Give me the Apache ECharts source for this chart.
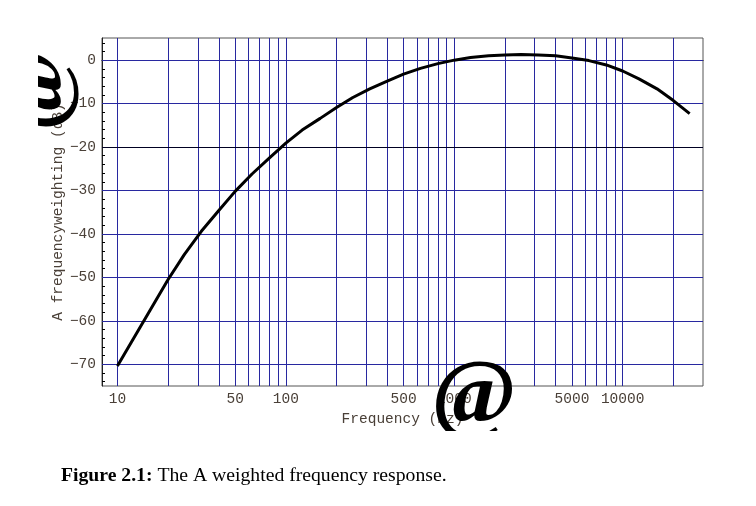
<!DOCTYPE html>
<html>
<head>
<meta charset="utf-8">
<script src="https://cdn.jsdelivr.net/npm/echarts@6/dist/echarts.min.js"></script>
<style>html,body{margin:0;padding:0;background:#fff;}#c{width:756px;height:506px;}</style>
</head>
<body>
<div id="c"></div>
<script>
// Data (A-weighting curve)
const freqs = [10, 20, 25, 31.5, 40, 50, 63, 80, 100, 125, 160, 200, 250, 315, 400, 500, 630, 800, 1000, 1250, 1600, 2000, 2500, 3150, 4000, 5000, 6300, 8000, 10000, 12500, 16000, 20000, 25000];
const weightDb = [-70.4, -50.5, -44.7, -39.4, -34.6, -30.2, -26.2, -22.5, -19.1, -16.1, -13.4, -10.9, -8.6, -6.6, -4.8, -3.2, -1.9, -0.8, 0, 0.6, 1.0, 1.2, 1.3, 1.2, 1.0, 0.5, -0.1, -1.1, -2.5, -4.3, -6.6, -9.3, -12.3];
const xGridValues = [10,20,30,40,50,60,70,80,90,100,200,300,400,500,600,700,800,900,1000,2000,3000,4000,5000,6000,7000,8000,9000,10000,20000];
const xTickLabels = [10, 50, 100, 500, 1000, 5000, 10000];
const yTickLabels = [-70, -60, -50, -40, -30, -20, -10, 0];
const yMinorTicks = [-74,-72,-70,-68,-66,-64,-62,-60,-58,-56,-54,-52,-50,-48,-46,-44,-42,-40,-38,-36,-34,-32,-30,-28,-26,-24,-22,-20,-18,-16,-14,-12,-10,-8,-6,-4,-2,0,2,4];
const xName = 'Frequency (Hz)';
const yName = 'A frequencyweighting (dB)';
const captionBold = 'Figure 2.1:';
const captionText = ' The A weighted frequency response.';

const mono = '"Liberation Mono", "DejaVu Sans Mono", monospace';
const labelColor = '#4a4038';
const navy = '#2828a0';

const chart = echarts.init(document.getElementById('c'), null, {renderer: 'canvas'});

const vLines = xGridValues.map(v => ({
  xAxis: v,
  label: xTickLabels.indexOf(v) >= 0
    ? {show: true, position: 'start', formatter: String(v), distance: 6, color: labelColor, fontFamily: mono, fontSize: 14.5}
    : {show: false}
}));
const hLines = yTickLabels.map(v => ({
  yAxis: v,
  lineStyle: v === -20 ? {color: '#000022', width: 1, type: 'solid'} : undefined,
  label: {show: false}
}));

chart.setOption({
  backgroundColor: '#fff',
  animation: false,
  title: {
    text: '{b|' + captionBold + '}' + captionText,
    left: 61, top: 466, padding: 0,
    textStyle: {
      fontFamily: '"Liberation Serif", serif', fontSize: 19.7, color: '#000', fontWeight: 'normal',
      rich: {b: {fontFamily: '"Liberation Serif", serif', fontSize: 19.7, fontWeight: 'bold', color: '#000'}}
    }
  },
  grid: {left: 102, right: 53, top: 38, bottom: 120, show: true, borderColor: '#555', borderWidth: 1, backgroundColor: 'transparent'},
  xAxis: {
    type: 'log', logBase: 10, min: 8.1, max: 30000,
    name: xName, nameLocation: 'middle', nameGap: 26, nameMoveOverlap: false,
    nameTextStyle: {fontFamily: mono, fontSize: 14.5, color: labelColor},
    axisLine: {show: true, lineStyle: {color: '#000', width: 1}},
    axisTick: {show: false}, axisLabel: {show: false},
    splitLine: {show: false}, minorTick: {show: false}, minorSplitLine: {show: false}
  },
  yAxis: {
    type: 'value', min: -75, max: 5.1,
    name: yName, nameLocation: 'middle', nameGap: 36, nameMoveOverlap: false,
    nameTextStyle: {fontFamily: mono, fontSize: 14.5, color: labelColor},
    axisLine: {show: true, lineStyle: {color: '#222', width: 1}},
    axisTick: {show: true, inside: true, length: 3, customValues: yMinorTicks, lineStyle: {color: '#000', width: 1}},
    axisLabel: {
      show: true, customValues: yTickLabels, margin: 6,
      fontFamily: mono, fontSize: 14.5, color: labelColor,
      formatter: v => (v < 0 ? '\u2212' + Math.abs(v) : String(v))
    },
    splitLine: {show: false}
  },
  series: [
    {
      type: 'line', name: 'grid', data: [], silent: true,
      markLine: {
        silent: true, symbol: 'none', animation: false,
        lineStyle: {color: navy, width: 1, type: 'solid', opacity: 1},
        emphasis: {disabled: true},
        data: vLines.concat(hLines)
      },
      z: 1
    },
    {
      type: 'line', name: 'A weighting',
      data: freqs.map((f, i) => [f, weightDb[i]]),
      showSymbol: false, symbol: 'none', smooth: false,
      lineStyle: {color: '#000', width: 3}, z: 5
    }
  ],
  graphic: [
    {type: 'text', z: 100, x: 38, y: 90, rotation: Math.PI / 2,
      style: {text: '@', font: 'bold 88px "Liberation Serif", serif', fill: '#000', align: 'center', verticalAlign: 'middle'}},
    {type: 'rect', z: 101, shape: {x: 0, y: 40, width: 38, height: 100}, style: {fill: '#fff'}},
    {type: 'text', z: 100, x: 474, y: 398,
      style: {text: '@', font: 'bold 92px "Liberation Serif", serif', fill: '#000', align: 'center', verticalAlign: 'middle'}},
    {type: 'rect', z: 101, shape: {x: 425, y: 431, width: 100, height: 25}, style: {fill: '#fff'}}
  ]
});
</script>
</body>
</html>
